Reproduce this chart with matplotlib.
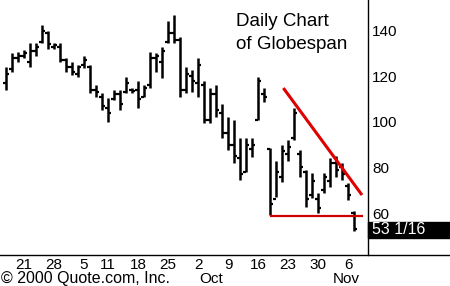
import matplotlib.pyplot as plt
from matplotlib.transforms import blended_transform_factory

plt.rcParams['font.family'] = ['Liberation Sans', 'DejaVu Sans']

# daily bars, Aug 16 .. Nov 7 2000 (trading day index 0..58)
highs = [124, 130, 130.5, 131.5, 134.5, 134.5, 142.5, 140, 134.5, 134.5,
         128, 126, 125, 129, 125, 116, 112.5, 110.5, 114, 114,
         119.5, 115, 118, 116, 130.5, 130, 133, 144, 147, 137,
         124, 122.5, 128, 118, 115, 116, 108, 102, 101, 93,
         93, 93, 119.5, 115, 88.5, 83, 90, 92, 106, 87.5,
         79, 77.5, 69, 77.5, 84, 85, 82, 73, 61]
lows = [114, 122, 126, 128, 124, 129, 134.5, 132, 132, 126,
        122, 120.5, 119.5, 123.5, 112.5, 111, 105, 100, 109.5, 105,
        112.5, 112.5, 106, 111, 115, 122, 119, 134.5, 134.5, 111,
        112.5, 113, 111, 99.5, 99.5, 102, 93, 87.5, 82, 74.5,
        78, 84.5, 101, 108.5, 59, 67, 73.5, 83, 92, 76,
        62.5, 66.5, 60, 69, 71.5, 76, 74.5, 65.5, 52]
opens = [117, 123, 128, 129, 126, 131, 135, 139, 133, 133,
         127, 124, 121, 125, 124, 114, 111, 106, 110, 112,
         113, 114, 114, 111, 116, 128, 126, 135, 139, 136,
         114, 120, 117, 116, 101, 112, 104, 95, 90, 84,
         78, 88, 101, 112, 88, 66, 76, 86, 93, 86,
         78, 68, 66, 70, 74, 82, 80, 72, 60]
closes = [121, 128, 129, 130, 131, 133, 140, 134, 133.5, 127,
          124, 122, 124, 127, 114, 113, 107, 104, 112, 108,
          117, 113.5, 110, 115, 128, 129, 131, 139, 136, 114,
          121, 118, 125, 101, 112, 105, 95, 90, 85, 77,
          90, 90, 118, 111, 64, 78, 87, 89, 104, 80,
          66, 74, 62, 76, 82, 79, 77, 68, 53.0625]

tick_days = [3, 8, 13, 17, 22, 27, 32, 37, 42, 47, 52, 57]
tick_labels = ['21', '28', '5', '11', '18', '25', '2', '9', '16', '23', '30', '6']
months = [('Oct', 34.2), ('Nov', 56.7)]
y_ticks = [60, 80, 100, 120, 140]

# pattern lines: (x0, y0, x1, y1)
trend_down = (46.2, 114.8, 59.3, 67.9)
support = (44, 58.7, 59.5, 58.7)
last_label = '53 1/16'

fig = plt.figure(figsize=(4.5, 2.86), dpi=100)
ax = fig.add_axes([0, 1 - 255 / 286, 368 / 450, 255 / 286])

days = list(range(len(highs)))
ax.vlines(days, lows, highs, color='black', lw=1.8)
ax.hlines(opens, [d - 0.55 for d in days], days, color='black', lw=1.6)
ax.hlines(closes, days, [d + 0.55 for d in days], color='black', lw=1.6)

ax.plot(trend_down[0::2], trend_down[1::2], color='#e00000', lw=2.2, solid_capstyle='butt')
ax.plot(support[0::2], support[1::2], color='#cc0000', lw=1.6, solid_capstyle='butt')

ax.set_xlim(-1, 60.3)
ax.set_ylim(41.6, 153.4)

for s in ['top', 'left']:
    ax.spines[s].set_visible(False)
ax.spines['right'].set_linewidth(1)
ax.spines['bottom'].set_visible(False)

ax.yaxis.tick_right()
ax.set_yticks(y_ticks)
ax.set_yticklabels([str(v) for v in y_ticks])
ax.tick_params(axis='y', length=0, pad=3, labelsize=11)
ax.set_xticks(tick_days)
ax.set_xticklabels(tick_labels)
ax.tick_params(axis='x', length=0, pad=2, labelsize=11)

# bottom rule across the whole figure
fig.add_artist(plt.Line2D([0, 1], [1 - 255 / 286, 1 - 255 / 286], color='black', lw=1))

# last price box
fig.patches.append(plt.Rectangle((368 / 450, 1 - 238 / 286), 82 / 450, 16 / 286,
                                 transform=fig.transFigure, color='black'))
fig.text(372 / 450, 1 - 230 / 286, last_label, color='white', fontsize=11.5, va='center')

trans = blended_transform_factory(ax.transData, fig.transFigure)
for name, x in months:
    ax.text(x, 1 - 279 / 286, name, transform=trans, ha='center', va='center', fontsize=11)
fig.text(1 / 450, 1 - 279 / 286, '\u00a9 2000 Quote.com, Inc.', fontsize=11.5, va='center')

fig.text(236 / 450, 1 - 22 / 286, 'Daily Chart', fontsize=13.5, va='center')
fig.text(236 / 450, 1 - 45 / 286, 'of Globespan', fontsize=13.5, va='center')

fig.savefig('out.png', dpi=100)
